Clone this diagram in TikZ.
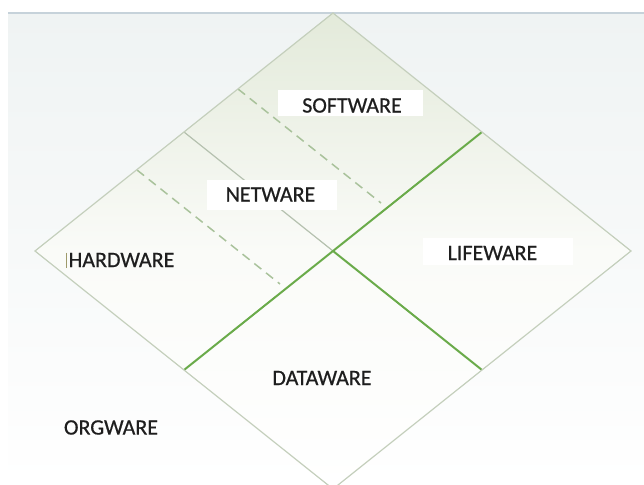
\documentclass[tikz,border=0pt]{standalone}
\usepackage{fontspec}
\setmainfont{Carlito}
\newfontfamily\lblfont[FakeBold=0.6]{Carlito}
\definecolor{bgtop}{HTML}{EFF3F3}
\definecolor{topline}{HTML}{C6D2DA}
\definecolor{edgecol}{HTML}{C4CFBC}
\definecolor{innergray}{HTML}{B5C1AF}
\definecolor{dashcol}{HTML}{A9C29B}
\definecolor{greenline}{HTML}{6AAB4A}
\definecolor{dtop}{HTML}{E3EADA}
\definecolor{dmid}{HTML}{FAFBF8}
\definecolor{txt}{HTML}{1E1E1E}
\tikzset{
  edge/.style={draw=edgecol, line width=1.2pt, line join=miter},
  gline/.style={draw=greenline, line width=2pt},
  grayline/.style={draw=innergray, line width=1.2pt},
  dline/.style={draw=dashcol, line width=1.5pt, dash pattern=on 9pt off 6pt},
  lbl/.style={fill=white, inner sep=0pt},
  ltext/.style={text=txt, font=\lblfont\fontsize{22}{24}\selectfont, inner sep=0pt}
}
\begin{document}
\begin{tikzpicture}[x=1pt,y=-1pt]
\useasboundingbox (0,0) rectangle (644,484);
% background
\fill[white] (0,0) rectangle (644,484);
\shade[top color=bgtop, bottom color=white] (8,13) rectangle (644,484);
\draw[topline, line width=1.5pt] (8,13) -- (644,13);
% diamond points
\coordinate (T) at (333,13);
\coordinate (L) at (35,251);
\coordinate (R) at (631,251);
\coordinate (B) at (333,489);
\coordinate (C) at (333,251);
\coordinate (mLT) at (184,132);
\coordinate (mTR) at (482,132);
\coordinate (mRB) at (482,370);
\coordinate (mLB) at (184,370);
\coordinate (d1s) at (137,170);
\coordinate (d1e) at (280,284);
\coordinate (d2s) at (238,89);
\coordinate (d2e) at (381,203);
% diamond fill
\shade[top color=dtop, bottom color=white, middle color=dmid] (T) -- (R) -- (B) -- (L) -- cycle;
% inner lines
\draw[grayline] (mLT) -- (C);
\draw[dline] (d1s) -- (d1e);
\draw[dline] (d2s) -- (d2e);
% label boxes
\node[lbl, minimum width=145pt, minimum height=26pt] (soft) at (350.5,103) {};
\node[lbl, minimum width=130pt, minimum height=30pt] (net) at (272,195) {};
\node[lbl, minimum width=150pt, minimum height=27pt] (life) at (498,251.5) {};
% green lines
\draw[gline] (mLB) -- (mTR);
\draw[gline] (C) -- (mRB);
% diamond edges
\draw[edge] (T) -- (R) -- (B) -- (L) -- cycle;
% labels
\node[ltext] (softt) at (352,105.5) {SOFTWARE};
\node[ltext] (nett) at (270.5,194.5) {NETWARE};
\node[ltext] (hard) at (121.5,260) {HARDWARE};
\node[ltext] (lifet) at (492.5,253) {LIFEWARE};
\node[ltext] (data) at (322,378) {DATAWARE};
\node[ltext] (org) at (111,427.5) {ORGWARE};
% cursor mark
\coordinate (cur1) at (66.5,252.5);
\coordinate (cur2) at (66.5,268);
\draw[draw=black!45!olive!60, line width=0.8pt] (cur1) -- (cur2);
\end{tikzpicture}
\end{document}
